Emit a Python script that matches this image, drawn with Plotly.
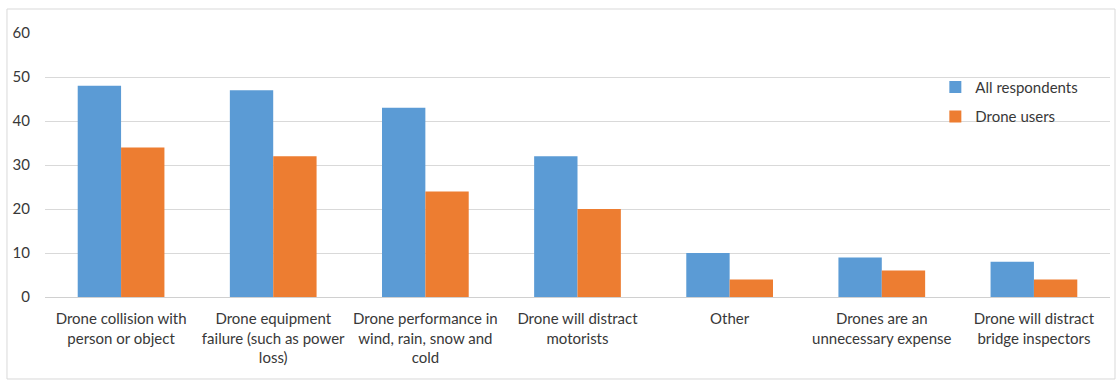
import plotly.graph_objects as go

categories = [
    "Drone collision with<br>person or object",
    "Drone equipment<br>failure (such as power<br>loss)",
    "Drone performance in<br>wind, rain, snow and<br>cold",
    "Drone will distract<br>motorists",
    "Other",
    "Drones are an<br>unnecessary expense",
    "Drone will distract<br>bridge inspectors",
]
all_respondents = [48, 47, 43, 32, 10, 9, 8]
drone_users = [34, 32, 24, 20, 4, 6, 4]
y_ticks = [0, 10, 20, 30, 40, 50, 60]

BLUE = "#5B9BD5"
ORANGE = "#ED7D31"
TEXT = "#383838"

fig = go.Figure()
fig.add_trace(go.Bar(x=categories, y=all_respondents, name="All respondents",
                     legendgroup="a",
                     marker=dict(color=BLUE, line=dict(width=0))))
fig.add_trace(go.Bar(x=categories, y=drone_users, name="Drone users",
                     legendgroup="b",
                     marker=dict(color=ORANGE, line=dict(width=0))))

fig.update_layout(
    width=1116, height=381,
    margin=dict(l=45, r=6, t=33, b=84),
    paper_bgcolor="white", plot_bgcolor="white",
    font=dict(family="Lato, 'Open Sans', sans-serif", size=15, color=TEXT),
    barmode="group", bargap=0.43, bargroupgap=0,
    showlegend=True,
    legend=dict(x=0.836, y=0.74, xanchor="left", yanchor="middle",
                bgcolor="rgba(0,0,0,0)", font=dict(size=15, color=TEXT),
                itemwidth=30, tracegroupgap=7, traceorder="grouped"),
    shapes=[dict(type="rect", xref="paper", yref="paper",
                 x0=-0.0357, x1=1.0047, y0=-0.3106, y1=1.0909,
                 line=dict(color="#D9D9D9", width=1), layer="below")],
)
fig.update_xaxes(showgrid=False, showline=False, ticks="",
                 tickfont=dict(size=15, color=TEXT), tickangle=0,
                 ticklabelstandoff=11)
fig.update_yaxes(range=[0, 60], tickvals=y_ticks, showgrid=True,
                 gridcolor="#D9D9D9", gridwidth=1, zeroline=True,
                 zerolinecolor="#D0D0D0", zerolinewidth=1, showline=False,
                 ticks="", ticklabelstandoff=14,
                 tickfont=dict(size=15, color=TEXT))

fig.write_html("out.html")
